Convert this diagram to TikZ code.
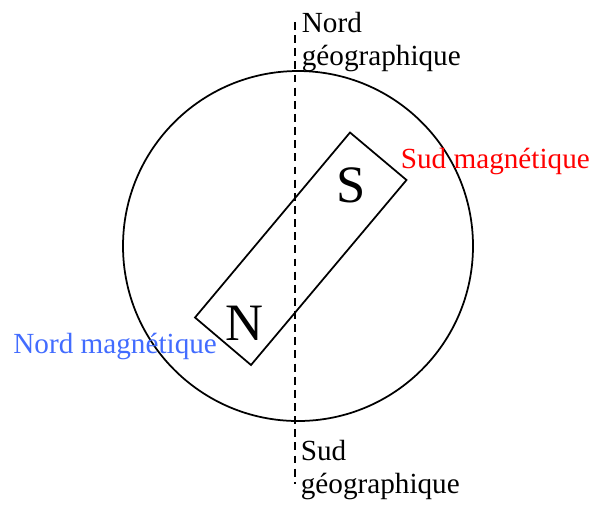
\documentclass[tikz,border=0pt]{standalone}
\usepackage{fontspec}
\setmainfont{Liberation Serif}
\usepackage{tikz}
\usetikzlibrary{positioning,calc}
\definecolor{MagRed}{RGB}{255, 0, 0}
\definecolor{MagBlue}{RGB}{66, 108, 255}

\begin{document}
\begin{tikzpicture}[x=0.3425pt, y=-0.3425pt, line width=0.6pt,
  label/.style={inner sep=0pt, align=left, font=\fontsize{10}{11.3}\selectfont},
  pole/.style={inner sep=0pt, font=\fontsize{18}{20}\selectfont}]
  \useasboundingbox (0, 0) rectangle (593, 505);

  % Earth
  \draw (298, 246) circle (175);

  % Geographic axis
  \coordinate (axtop) at (295, 22);
  \coordinate (axbot) at (295, 484);
  \draw[dash pattern=on 2.7pt off 1.8pt] (axtop) -- (axbot);
  \node[label, anchor=base west] (nordgeo) at (301, 65) {Nord\\géographique};
  \node[label, anchor=base west] (sudgeo) at (300, 493) {Sud\\géographique};

  % Magnet
  \draw (350, 132.5) -- (406.5, 180) -- (251, 365) -- (195, 317.5) -- cycle;
  \node[pole, anchor=base] (S) at (351, 202) {S};
  \node[pole, anchor=base] (N) at (244.5, 340) {N};

  % Magnetic poles
  \node[label, anchor=base west, text=MagRed] (sudmag) at (400, 168) {Sud magnétique};
  \node[label, anchor=base west, text=MagBlue] (nordmag) at (12.5, 353) {Nord magnétique};
\end{tikzpicture}
\end{document}
